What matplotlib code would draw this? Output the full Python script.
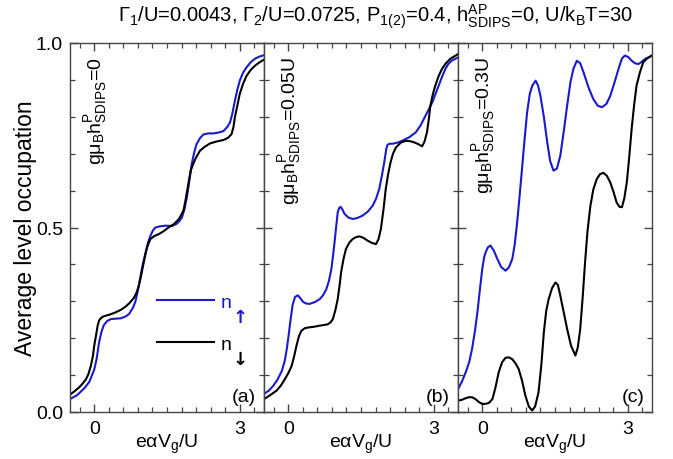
import matplotlib
matplotlib.use("Agg")
import matplotlib.pyplot as plt
from matplotlib.ticker import MultipleLocator, FixedLocator

plt.rcParams["font.family"] = ["Liberation Sans", "DejaVu Sans"]
plt.rcParams["mathtext.fontset"] = "custom"
plt.rcParams["mathtext.rm"] = "Liberation Sans"
plt.rcParams["mathtext.it"] = "Liberation Sans"
plt.rcParams["mathtext.sf"] = "Liberation Sans"
plt.rcParams["mathtext.bf"] = "Liberation Sans:bold"

# ---- data ----
# panel (a): g mu_B h^P = 0
xa_up = [-0.5, -0.35, -0.2, -0.1, 0.0, 0.05, 0.1, 0.15, 0.2, 0.27, 0.35, 0.45, 0.55, 0.65,
         0.72, 0.8, 0.85, 0.9, 0.955, 1.0, 1.06, 1.11, 1.16, 1.21, 1.26, 1.35, 1.47, 1.6,
         1.7, 1.76, 1.81, 1.86, 1.91, 1.96, 2.01, 2.06, 2.11, 2.18, 2.25, 2.35, 2.45, 2.55,
         2.66, 2.74, 2.8, 2.85, 2.9, 2.95, 3.0, 3.07, 3.14, 3.22, 3.31, 3.4, 3.5]
ya_up = [0.035, 0.046, 0.065, 0.082, 0.115, 0.145, 0.189, 0.218, 0.236, 0.247, 0.252, 0.253,
         0.254, 0.259, 0.266, 0.283, 0.30, 0.33, 0.369, 0.40, 0.433, 0.46, 0.478, 0.492, 0.50,
         0.503, 0.505, 0.504, 0.51, 0.518, 0.528, 0.55, 0.582, 0.626, 0.672, 0.703, 0.726,
         0.742, 0.752, 0.755, 0.755, 0.757, 0.761, 0.772, 0.785, 0.81, 0.844, 0.873, 0.898,
         0.92, 0.934, 0.947, 0.957, 0.963, 0.967]
xa_dn = [-0.5, -0.4, -0.31, -0.24, -0.17, -0.12, -0.07, -0.03, 0.0, 0.04, 0.07, 0.1, 0.14,
         0.19, 0.24, 0.34, 0.44, 0.55, 0.65, 0.74, 0.82, 0.87, 0.92, 0.97, 1.02, 1.06, 1.09,
         1.13, 1.16, 1.24, 1.33, 1.43, 1.53, 1.64, 1.74, 1.8, 1.84, 1.89, 1.94, 1.99, 2.04,
         2.1, 2.18, 2.28, 2.39, 2.52, 2.66, 2.76, 2.83, 2.87, 2.9, 2.95, 3.0, 3.07, 3.14,
         3.22, 3.31, 3.4, 3.5]
ya_dn = [0.047, 0.057, 0.067, 0.077, 0.089, 0.103, 0.125, 0.15, 0.18, 0.21, 0.234, 0.248,
         0.255, 0.259, 0.261, 0.265, 0.27, 0.277, 0.286, 0.297, 0.31, 0.323, 0.342, 0.372,
         0.405, 0.43, 0.446, 0.46, 0.469, 0.477, 0.482, 0.49, 0.50, 0.509, 0.522, 0.536,
         0.546, 0.58, 0.618, 0.655, 0.672, 0.69, 0.708, 0.719, 0.728, 0.733, 0.737, 0.743,
         0.753, 0.772, 0.799, 0.83, 0.862, 0.89, 0.911, 0.926, 0.938, 0.947, 0.955]

# panel (b): g mu_B h^P = 0.05U
xb_up = [-0.5, -0.4, -0.31, -0.22, -0.13, -0.07, -0.03, 0.01, 0.05, 0.09, 0.14, 0.2, 0.25,
         0.31, 0.37, 0.44, 0.55, 0.65, 0.72, 0.785, 0.84, 0.89, 0.92, 0.955, 0.99, 1.02,
         1.05, 1.08, 1.12, 1.16, 1.24, 1.33, 1.43, 1.53, 1.64, 1.74, 1.81, 1.875, 1.93,
         1.98, 2.02, 2.045, 2.09, 2.15, 2.25, 2.35, 2.5, 2.63, 2.73, 2.83, 2.97, 3.1, 3.17,
         3.24, 3.3, 3.37, 3.5]
yb_up = [0.049, 0.058, 0.071, 0.088, 0.112, 0.14, 0.171, 0.21, 0.252, 0.29, 0.312, 0.316,
         0.308, 0.298, 0.294, 0.293, 0.298, 0.306, 0.317, 0.333, 0.356, 0.388, 0.42, 0.46,
         0.505, 0.541, 0.553, 0.556, 0.548, 0.537, 0.527, 0.523, 0.526, 0.532, 0.543, 0.559,
         0.578, 0.604, 0.64, 0.677, 0.712, 0.724, 0.727, 0.727, 0.73, 0.735, 0.745, 0.758,
         0.777, 0.803, 0.839, 0.884, 0.908, 0.93, 0.943, 0.952, 0.961]
xb_dn = [-0.5, -0.38, -0.24, -0.15, -0.07, 0.0, 0.07, 0.12, 0.17, 0.22, 0.27, 0.34, 0.41,
         0.53, 0.65, 0.75, 0.82, 0.88, 0.92, 0.97, 1.02, 1.06, 1.09, 1.14, 1.19, 1.26, 1.33,
         1.4, 1.47, 1.55, 1.64, 1.73, 1.81, 1.86, 1.91, 1.96, 2.01, 2.06, 2.11, 2.16, 2.22,
         2.32, 2.42, 2.51, 2.59, 2.68, 2.76, 2.81, 2.86, 2.9, 2.93, 2.98, 3.03, 3.1, 3.17,
         3.25, 3.34, 3.5]
yb_dn = [0.035, 0.045, 0.058, 0.072, 0.089, 0.105, 0.125, 0.15, 0.18, 0.205, 0.22, 0.227,
         0.229, 0.231, 0.234, 0.236, 0.238, 0.244, 0.252, 0.275, 0.306, 0.345, 0.379, 0.415,
         0.442, 0.459, 0.469, 0.474, 0.476, 0.472, 0.464, 0.458, 0.455, 0.468, 0.496, 0.545,
         0.604, 0.645, 0.677, 0.70, 0.717, 0.73, 0.735, 0.734, 0.731, 0.726, 0.72, 0.733,
         0.758, 0.795, 0.83, 0.86, 0.884, 0.91, 0.93, 0.945, 0.957, 0.97]

# panel (c): g mu_B h^P = 0.3U
xc_up = [-0.5, -0.42, -0.34, -0.27, -0.21, -0.15, -0.1, -0.05, 0.0, 0.04, 0.07, 0.12, 0.17,
         0.24, 0.31, 0.39, 0.48, 0.55, 0.62, 0.67, 0.72, 0.77, 0.82, 0.87, 0.925, 0.98, 1.03,
         1.1, 1.15, 1.2, 1.27, 1.34, 1.4, 1.47, 1.54, 1.61, 1.68, 1.75, 1.82, 1.88, 1.95,
         2.02, 2.09, 2.19, 2.29, 2.38, 2.47, 2.56, 2.64, 2.72, 2.81, 2.88, 2.94, 3.01, 3.08,
         3.15, 3.22, 3.29, 3.36, 3.5]
yc_up = [0.062, 0.082, 0.108, 0.135, 0.171, 0.22, 0.27, 0.33, 0.388, 0.42, 0.433, 0.447,
         0.451, 0.437, 0.415, 0.393, 0.383, 0.392, 0.415, 0.455, 0.514, 0.585, 0.659, 0.735,
         0.812, 0.862, 0.884, 0.898, 0.885, 0.857, 0.80, 0.731, 0.68, 0.654, 0.66, 0.695,
         0.76, 0.83, 0.895, 0.93, 0.952, 0.945, 0.92, 0.88, 0.848, 0.83, 0.826, 0.835,
         0.857, 0.89, 0.93, 0.958, 0.966, 0.962, 0.952, 0.945, 0.943, 0.949, 0.957, 0.966]
xc_dn = [-0.5, -0.42, -0.35, -0.28, -0.21, -0.14, -0.07, 0.0, 0.07, 0.14, 0.21, 0.27, 0.34,
         0.41, 0.48, 0.55, 0.62, 0.68, 0.75, 0.82, 0.89, 0.96, 1.03, 1.09, 1.16, 1.22, 1.27,
         1.32, 1.37, 1.44, 1.51, 1.56, 1.61, 1.68, 1.75, 1.83, 1.92, 1.97, 2.02, 2.07, 2.12,
         2.17, 2.23, 2.29, 2.36, 2.43, 2.5, 2.57, 2.64, 2.71, 2.77, 2.83, 2.88, 2.93, 2.98,
         3.03, 3.08, 3.13, 3.18, 3.25, 3.32, 3.4, 3.5]
yc_dn = [0.031, 0.033, 0.037, 0.04, 0.04, 0.035, 0.027, 0.022, 0.022, 0.025, 0.035, 0.065,
         0.108, 0.135, 0.147, 0.148, 0.143, 0.133, 0.117, 0.085, 0.044, 0.015, 0.004, 0.015,
         0.053, 0.13, 0.216, 0.275, 0.306, 0.336, 0.351, 0.344, 0.315, 0.27, 0.225, 0.18,
         0.153, 0.175, 0.225, 0.31, 0.406, 0.49, 0.559, 0.603, 0.631, 0.645, 0.648, 0.64,
         0.622, 0.595, 0.568, 0.556, 0.555, 0.58, 0.622, 0.69, 0.767, 0.83, 0.884, 0.92,
         0.948, 0.958, 0.966]

field_labels = ["=0", "=0.05U", "=0.3U"]
panel_tags = ["(a)", "(b)", "(c)"]
up_series = [(xa_up, ya_up), (xb_up, yb_up), (xc_up, yc_up)]
dn_series = [(xa_dn, ya_dn), (xb_dn, yb_dn), (xc_dn, yc_dn)]

BLUE = "#1a1acc"
FS = 14

fig = plt.figure(figsize=(6.73, 4.60), dpi=100)

W, H = 673.0, 460.0
left0, right0, top0, bot0 = 70, 652, 44, 413
pw = (right0 - left0) / 3.0

for i in range(3):
    ax = fig.add_axes([(left0 + i * pw) / W, 1 - bot0 / H, pw / W, (bot0 - top0) / H])
    xu, yu = up_series[i]
    xd, yd = dn_series[i]
    l_up, = ax.plot(xu, yu, color=BLUE, lw=1.5, label="n")
    l_dn, = ax.plot(xd, yd, color="black", lw=1.5, label="n")

    ax.set_xlim(-0.5, 3.5)
    ax.set_ylim(0.0, 1.0)
    ax.xaxis.set_major_locator(FixedLocator([0, 3]))
    ax.xaxis.set_minor_locator(MultipleLocator(0.3))
    ax.yaxis.set_major_locator(FixedLocator([0.0, 0.5, 1.0]))
    ax.yaxis.set_minor_locator(MultipleLocator(0.1))
    ax.tick_params(which="both", direction="in", top=True, right=True,
                   color="#444444", labelsize=FS)
    ax.tick_params(which="major", length=6, width=1.0)
    ax.tick_params(which="minor", length=3.5, width=0.9)
    ax.tick_params(axis="x", pad=6)
    ax.tick_params(axis="y", pad=5)
    for s in ax.spines.values():
        s.set_color("#444444")
        s.set_linewidth(1.0)
    if i == 0:
        ax.set_yticklabels(["0.0", "0.5", "1.0"])
        ax.set_ylabel("Average level occupation", fontsize=16.5, labelpad=-1)
    else:
        ax.set_yticklabels([])
    ax.set_xlabel(r"e$\alpha$V$_g$/U", fontsize=FS, labelpad=-4)

    ax.text(0.06, 0.965, r"g$\mu_B$h$^P_{SDIPS}$" + field_labels[i], transform=ax.transAxes,
            rotation=90, ha="left", va="top", fontsize=FS)
    ax.text(0.96, 0.02, panel_tags[i], transform=ax.transAxes, ha="right", va="bottom",
            fontsize=FS)

    if i == 0:
        leg = ax.legend(handles=[l_up, l_dn], loc="center left", bbox_to_anchor=(0.4, 0.24),
                        frameon=False, fontsize=FS, handlelength=2.9, handletextpad=0.35,
                        labelspacing=1.25, borderpad=0.0, labelcolor=[BLUE, "black"])
        for txt, arrow, col in zip(leg.get_texts(), ["\u2191", "\u2193"], [BLUE, "black"]):
            ax.annotate(arrow, xy=(1.0, 0.0), xycoords=txt, xytext=(0.5, -4),
                        textcoords="offset points", ha="left", va="center", fontsize=13,
                        fontweight="bold", family="DejaVu Sans", color=col, zorder=10,
                        annotation_clip=False)

fig.text(0.557, 0.963,
         r"$\Gamma_1$/U=0.0043, $\Gamma_2$/U=0.0725, P$_{1(2)}$=0.4, "
         r"h$^{AP}_{SDIPS}$=0, U/k$_B$T=30",
         ha="center", va="center", fontsize=14.5)

fig.savefig("out.png", dpi=100)
